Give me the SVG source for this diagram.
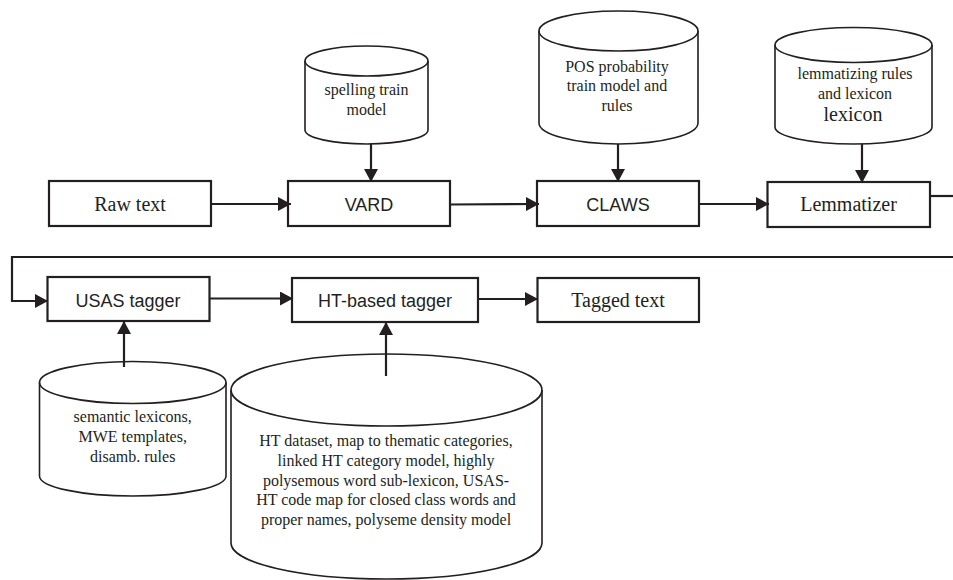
<svg xmlns="http://www.w3.org/2000/svg" width="953" height="580" viewBox="0 0 953 580">
<defs>
<marker id="ah" markerUnits="userSpaceOnUse" markerWidth="14" markerHeight="14" refX="13" refY="7" orient="auto">
<path d="M0,0 L13,7 L0,14 Z" fill="#231f20"/>
</marker>
</defs>
<style>
.box{fill:#fff;stroke:#231f20;stroke-width:2.2}
.cyl{fill:#fff;stroke:#231f20;stroke-width:1.6}
.cylf{fill:none;stroke:#231f20;stroke-width:1.6}
.con{fill:none;stroke:#231f20;stroke-width:2.2}
.serif{font-family:"Liberation Serif","Times New Roman",serif;fill:#231f20;text-anchor:middle}
.sans{font-family:"Liberation Sans",Arial,sans-serif;fill:#231f20;text-anchor:middle;font-size:18px}
.bt{font-size:20px}
.ct{font-size:16px}
</style>
<rect width="953" height="580" fill="#fff"/>

<g id="spelling-model">
<path class="cyl" d="M305,61 A61.5,15 0 0 1 428,61 L428,130 A61.5,14 0 0 1 305,130 Z"/>
<path class="cylf" d="M305,61 A61.5,15 0 0 0 428,61"/>
<text class="serif ct" x="366.5" y="95">spelling train</text>
<text class="serif ct" x="366.5" y="115">model</text>
</g>

<g id="pos-model">
<path class="cyl" d="M539,31 A79.5,20 0 0 1 698,31 L698,123 A79.5,21 0 0 1 539,123 Z"/>
<path class="cylf" d="M539,31 A79.5,20 0 0 0 698,31"/>
<text class="serif ct" x="617" y="72">POS probability</text>
<text class="serif ct" x="617" y="91">train model and</text>
<text class="serif ct" x="617" y="111">rules</text>
</g>

<g id="lemma-rules">
<path class="cyl" d="M775,45 A78.5,17.5 0 0 1 932,45 L932,127 A78.5,17 0 0 1 775,127 Z"/>
<path class="cylf" d="M775,45 A78.5,17.5 0 0 0 932,45"/>
<text class="serif ct" x="855" y="79">lemmatizing rules</text>
<text class="serif ct" x="855" y="99">and lexicon</text>
<text class="serif" font-size="20" x="853" y="121">lexicon</text>
</g>

<g id="semantic-lexicons">
<path class="cyl" d="M39.5,382.5 A93.25,21 0 0 1 226,382.5 L226,476 A93.25,20 0 0 1 39.5,476 Z"/>
<path class="cylf" d="M39.5,382.5 A93.25,21 0 0 0 226,382.5"/>
<text class="serif ct" x="132.7" y="422">semantic lexicons,</text>
<text class="serif ct" x="132.7" y="442">MWE templates,</text>
<text class="serif ct" x="132.7" y="462">disamb. rules</text>
</g>

<g id="ht-dataset">
<path class="cyl" d="M231,390 A155.5,36 0 0 1 542,390 L542,543 A155.5,36 0 0 1 231,543 Z"/>
<path class="cylf" d="M231,390 A155.5,36 0 0 0 542,390"/>
<text class="serif ct" x="386" y="446">HT dataset, map to thematic categories,</text>
<text class="serif ct" x="386" y="466">linked HT category model, highly</text>
<text class="serif ct" x="386" y="486">polysemous word sub-lexicon, USAS-</text>
<text class="serif ct" x="386" y="505">HT code map for closed class words and</text>
<text class="serif ct" x="386" y="525">proper names, polyseme density model</text>
</g>

<g id="raw-text">
<rect class="box" x="49" y="181" width="162" height="45"/>
<text class="serif bt" x="130" y="211">Raw text</text>
</g>
<g id="vard">
<rect class="box" x="288" y="181" width="162" height="45"/>
<text class="sans" x="369" y="211">VARD</text>
</g>
<g id="claws">
<rect class="box" x="537" y="181" width="162" height="45"/>
<text class="sans" x="618" y="211">CLAWS</text>
</g>
<g id="lemmatizer">
<rect class="box" x="767.5" y="182" width="162.5" height="45"/>
<text class="serif bt" x="848.5" y="211">Lemmatizer</text>
</g>
<g id="usas-tagger">
<rect class="box" x="47.5" y="277" width="162" height="44"/>
<text class="sans" x="128" y="306.5">USAS tagger</text>
</g>
<g id="ht-tagger">
<rect class="box" x="292" y="278" width="186" height="44"/>
<text class="sans" x="385" y="306.5">HT-based tagger</text>
</g>
<g id="tagged-text">
<rect class="box" x="537.5" y="278" width="161.5" height="44"/>
<text class="serif bt" x="618" y="307">Tagged text</text>
</g>

<g id="connectors">
<path class="con" d="M211,204 L291,204" marker-end="url(#ah)"/>
<path class="con" d="M450,204.5 L539,204" marker-end="url(#ah)"/>
<path class="con" d="M699,204 L769,204" marker-end="url(#ah)"/>
<path class="con" d="M930,196 L953,196"/>
<path class="con" d="M953,257 L12,257 L12,301 L48,301" marker-end="url(#ah)"/>
<path class="con" d="M210,298.5 L293,298.5" marker-end="url(#ah)"/>
<path class="con" d="M478,299 L538,299" marker-end="url(#ah)"/>
<path class="con" d="M371,144 L371,182" marker-end="url(#ah)"/>
<path class="con" d="M618,144 L618,182" marker-end="url(#ah)"/>
<path class="con" d="M862,144 L862,183" marker-end="url(#ah)"/>
<path class="con" d="M124,367 L124,321" marker-end="url(#ah)"/>
<path class="con" d="M386,376 L386,322" marker-end="url(#ah)"/>
</g>
</svg>
